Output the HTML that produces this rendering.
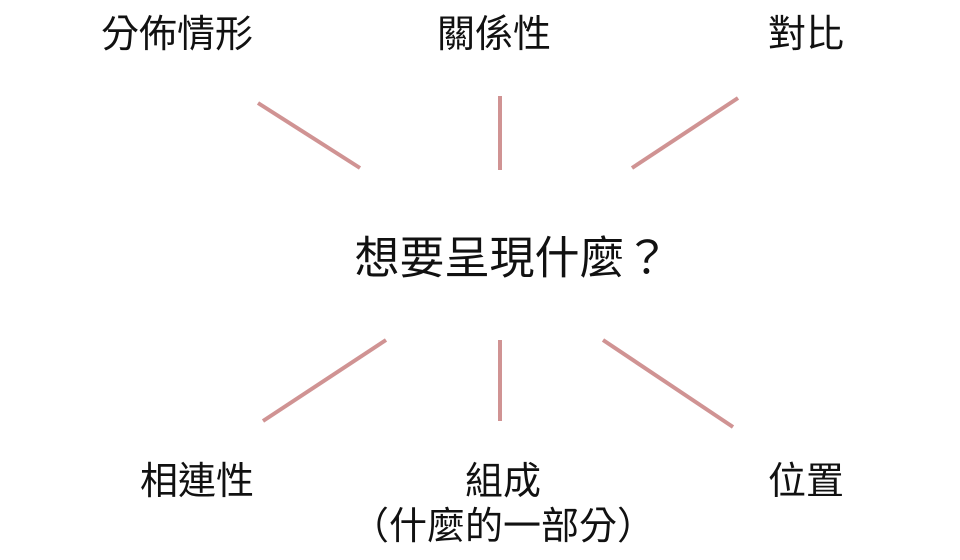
<!DOCTYPE html>
<html><head><meta charset="utf-8"><style>
body{margin:0;width:960px;height:560px;background:#fff;overflow:hidden;position:relative;font-family:"Liberation Sans","Noto Sans CJK TC",sans-serif;color:#111}
.t{position:absolute;white-space:nowrap;transform:translate(-50%,-50%);font-size:38px;line-height:1;font-weight:400}
</style></head><body>
<svg width="960" height="560" style="position:absolute;left:0;top:0">
<g stroke="#d09393" stroke-width="4" fill="none">
<line x1="258" y1="103" x2="360" y2="168"/>
<line x1="500" y1="96" x2="500" y2="170"/>
<line x1="738" y1="98" x2="632" y2="168"/>
<line x1="386" y1="340" x2="263" y2="421"/>
<line x1="500" y1="340" x2="500" y2="421"/>
<line x1="603" y1="340" x2="733" y2="427"/>
</g></svg>
<div class="t" style="left:177px;top:35px">分佈情形</div>
<div class="t" style="left:494px;top:35px">關係性</div>
<div class="t" style="left:806px;top:35px">對比</div>
<div class="t" style="left:512px;top:258px;font-size:45px">想要呈現什麼？</div>
<div class="t" style="left:197px;top:482px">相連性</div>
<div class="t" style="left:503px;top:482px">組成</div>
<div class="t" style="left:503px;top:527px">（什麼的一部分）</div>
<div class="t" style="left:806px;top:482px">位置</div>
</body></html>
